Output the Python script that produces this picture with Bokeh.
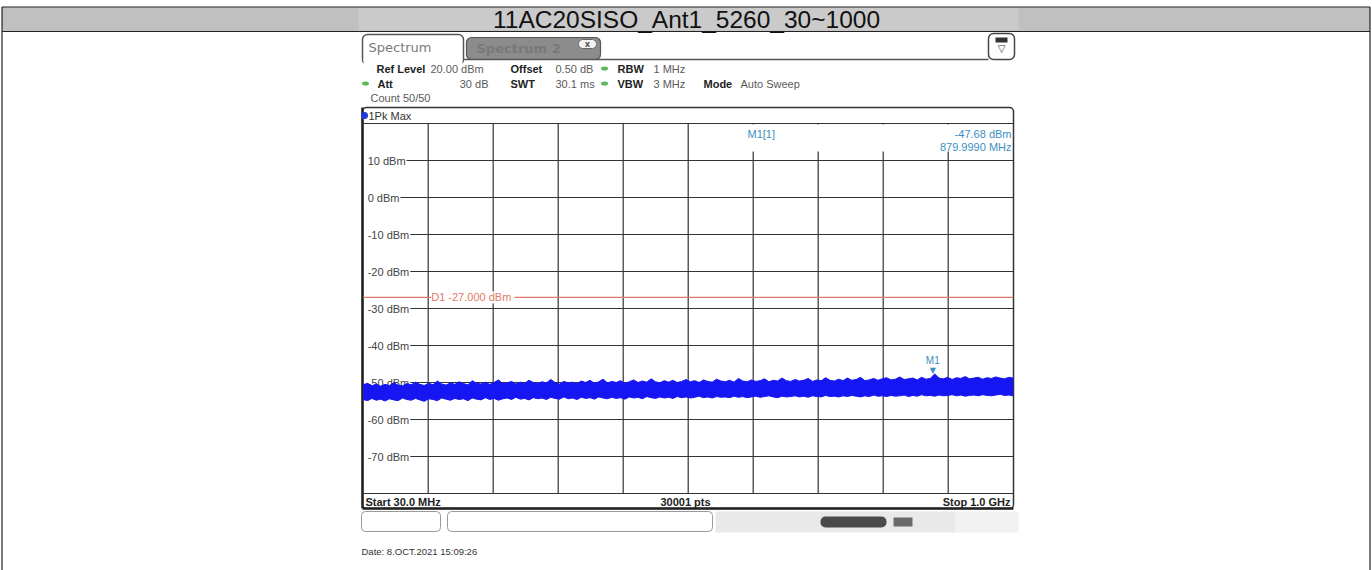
import numpy as np
from bokeh.plotting import figure
from bokeh.models import Range1d
from bokeh.core.properties import value
from bokeh.embed import file_html
from bokeh.resources import INLINE

# ---------------- data ----------------
title_text = "11AC20SISO_Ant1_5260_30~1000"
start_mhz = 30.0
stop_mhz = 1000.0
sweep_points = 30001
ref_top_dbm = 20.0
ref_bottom_dbm = -80.0
freq_grid_mhz = [127, 224, 321, 418, 515, 612, 709, 806, 903]
level_ticks_dbm = [10, 0, -10, -20, -30, -40, -50, -60, -70]
level_tick_labels = ["10 dBm", "0 dBm", "-10 dBm", "-20 dBm", "-30 dBm",
                     "-40 dBm", "-50 dBm", "-60 dBm", "-70 dBm"]
d1_level_dbm = -27.0
marker_freq_mhz = 879.999
marker_level_dbm = -47.68
date_text = "Date: 8.OCT.2021  15:09:26"

# upper (peak) and lower (floor) edges of the noise trace, read left to right
trace_peak_dbm = [
    -50.6, -50.2, -50.9, -50.4, -51.0, -50.5, -50.8, -50.1, -50.7, -50.9,
    -50.3, -50.6, -49.9, -50.5, -50.8, -50.2, -50.6, -49.6, -50.4, -50.7,
    -50.1, -50.5, -49.8, -50.3, -50.6, -49.5, -50.2, -50.4, -49.9, -50.5,
    -50.0, -49.3, -50.3, -50.1, -49.7, -50.4, -49.9, -50.2, -49.4, -50.0,
    -50.3, -49.8, -50.1, -49.2, -50.0, -50.4, -49.7, -50.1, -49.9, -50.3,
    -49.6, -50.0, -49.4, -50.2, -49.8, -49.1, -50.1, -49.7, -50.0, -49.5,
    -50.2, -49.8, -49.3, -50.0, -49.6, -49.9, -49.0, -49.8, -50.1, -49.5,
    -49.9, -49.4, -50.0, -49.7, -49.2, -49.8, -49.5, -50.0, -49.3, -49.7,
    -49.9, -49.1, -49.6, -49.8, -49.4, -49.9, -48.9, -49.6, -49.8, -49.3,
    -49.7, -49.5, -49.0, -49.8, -49.4, -49.6, -48.8, -49.5, -49.7, -49.2,
    -49.6, -49.4, -48.9, -49.7, -49.3, -49.5, -48.7, -49.4, -49.6, -49.1,
    -49.5, -48.8, -49.4, -49.2, -48.6, -49.5, -49.3, -48.9, -49.4, -49.0,
    -48.7, -49.3, -49.1, -48.5, -49.2, -49.0, -48.8, -49.3, -48.6, -49.1,
    -48.9, -47.68, -48.8, -49.0, -48.6, -49.2, -48.7, -48.9, -48.4, -49.0,
    -48.8, -48.6, -49.1, -48.7, -48.9, -48.5, -48.8, -49.0, -48.6, -48.8,
]
trace_floor_dbm = [
    -54.6, -54.9, -54.3, -54.8, -54.5, -55.0, -54.4, -54.7, -54.9, -54.2,
    -54.6, -54.8, -54.3, -54.7, -55.1, -54.4, -54.6, -54.9, -54.2, -54.5,
    -54.8, -54.3, -54.6, -54.4, -54.9, -54.2, -54.5, -54.7, -54.1, -54.6,
    -54.3, -54.8, -54.4, -54.2, -54.6, -54.0, -54.5, -54.3, -54.7, -54.1,
    -54.4, -54.2, -54.6, -54.0, -54.3, -54.5, -53.9, -54.4, -54.2, -54.6,
    -54.0, -54.3, -54.1, -54.5, -53.9, -54.2, -54.4, -54.0, -54.3, -54.1,
    -54.5, -53.9, -54.2, -54.0, -54.4, -53.8, -54.1, -54.3, -53.9, -54.2,
    -54.0, -54.3, -53.8, -54.1, -53.9, -54.2, -54.0, -53.7, -54.1, -53.9,
    -54.2, -53.8, -54.0, -53.9, -54.1, -53.7, -54.0, -53.8, -54.1, -53.9,
    -53.7, -54.0, -53.8, -53.6, -53.9, -54.1, -53.7, -53.9, -53.8, -53.6,
    -53.9, -53.7, -54.0, -53.6, -53.8, -53.9, -53.5, -53.8, -53.7, -53.9,
    -53.6, -53.8, -53.5, -53.7, -53.9, -53.6, -53.8, -53.4, -53.7, -53.6,
    -53.8, -53.5, -53.7, -53.6, -53.4, -53.8, -53.5, -53.7, -53.3, -53.6,
    -53.5, -53.7, -53.4, -53.6, -53.5, -53.3, -53.6, -53.4, -53.7, -53.5,
    -53.4, -53.6, -53.3, -53.5, -53.6, -53.4, -53.2, -53.5, -53.4, -53.6,
]

# ---------------- layout (page pixels) ----------------
W, H = 1372, 570
GX0, GX1 = 362.7, 1012.7      # screen x of start / stop frequency
GY0, GY1 = 123.0, 493.0       # screen y of ref top / bottom level
LABEL_INSET = 3.5             # px between frame and level label box
UI = "Liberation Sans"

mhz_per_px = (stop_mhz - start_mhz) / (GX1 - GX0)
db_per_px = (ref_top_dbm - ref_bottom_dbm) / (GY1 - GY0)

def f_at(px):
    return start_mhz + (px - GX0) * mhz_per_px

def l_at(py):
    return ref_top_dbm - (py - GY0) * db_per_px

p = figure(width=W, height=H, output_backend="svg", toolbar_location=None,
           x_range=Range1d(0, W), y_range=Range1d(H, 0),
           x_axis_location=None, y_axis_location=None, min_border=0,
           outline_line_color=None, background_fill_color="white",
           border_fill_color="white")
p.grid.visible = False
p.extra_x_ranges = {"f": Range1d(f_at(0), f_at(W))}
p.extra_y_ranges = {"d": Range1d(l_at(H), l_at(0))}
D = dict(x_range_name="f", y_range_name="d")


def txt(x, y, t, size, color, align="left", bold=False, font=UI, baseline="middle", **kw):
    p.text(x=x if isinstance(x, list) else [x], y=y if isinstance(y, list) else [y],
           text=t if isinstance(t, list) else [t],
           text_font=value(font), text_font_size=f"{size}px", text_color=color,
           text_align=align, text_baseline=baseline,
           text_font_style="bold" if bold else "normal", **kw)


# ---------------- header band ----------------
BL, BR, BT, HB = 1.5, 1369.5, 6.5, 31
p.quad(left=[BL], right=[BR], top=[BT], bottom=[HB], fill_color="#c0c0c0", line_color=None)
p.quad(left=[358], right=[1018], top=[BT + 1], bottom=[HB - 1], fill_color="#cacaca", line_color=None)
p.segment(x0=[BL, BL, BL, BR], y0=[BT, HB, BT, BT], x1=[BR, BR, BL, BR], y1=[BT, HB, H, H],
          line_color="#222222", line_width=1.2)
txt(686, 19, title_text, 24.5, "#111111", align="center")

# ---------------- tabs ----------------
p.quad(left=[362], right=[463], top=[34], bottom=[64], fill_color="white",
       line_color="#555555", line_width=1.5, border_radius=5)
p.quad(left=[363], right=[462], top=[58], bottom=[66], fill_color="white", line_color=None)
p.quad(left=[466], right=[600], top=[37], bottom=[59], fill_color="#8c8c8c",
       line_color="#555555", line_width=1.2, border_radius=5)
p.quad(left=[578], right=[596], top=[39], bottom=[48], fill_color="#f2f2f2",
       line_color="#666666", line_width=1, border_radius=4)
txt(587, 43.5, "x", 9, "#444444", align="center", bold=True)
txt(368, 47, "Spectrum", 13, "#7a7a7a", font="DejaVu Sans")
txt(476, 48, "Spectrum 2", 13, "#787878", bold=True, font="DejaVu Sans")
p.segment(x0=[463], y0=[59], x1=[988], y1=[59], line_color="#555555", line_width=1.5)
p.quad(left=[988], right=[1014], top=[33], bottom=[59], fill_color="white",
       line_color="#444444", line_width=1.5, border_radius=5)
p.quad(left=[995], right=[1007], top=[37], bottom=[42], fill_color="#333333", line_color=None)
txt(1001, 48, "▽", 10, "#333333", align="center", font="DejaVu Sans")

# ---------------- settings text ----------------
LBL, VAL = "#222222", "#5a5a5a"
txt([376, 510, 617, 377, 510, 617, 703], [68, 68, 68, 83, 83, 83, 83],
    ["Ref Level", "Offset", "RBW", "Att", "SWT", "VBW", "Mode"], 11, LBL, bold=True)
txt([430, 555, 653, 555, 653, 740, 370], [68, 68, 68, 83, 83, 83, 97],
    ["20.00 dBm", "0.50 dB", "1 MHz", "30.1 ms", "3 MHz", "Auto Sweep", "Count 50/50"], 11, VAL)
txt(488, 83, "30 dB", 11, VAL, align="right")
p.ellipse(x=[604, 365, 604], y=[68, 83, 83], width=7, height=4, fill_color="#5cb85c", line_color=None)

# ---------------- frame ----------------
p.quad(left=[362], right=[1013], top=[107], bottom=[508], fill_color="white",
       line_color="#333333", line_width=1.5, border_radius=4)
p.segment(x0=[362, 362], y0=[107, 508], x1=[362, 1013], y1=[508, 508], line_color="#222222", line_width=2.5)
p.circle(x=[364], y=[115], radius=3.5, fill_color="#1f3bd6", line_color=None)
txt(368, 115, "1Pk Max", 11, "#333333")

# grid (data coordinates); labelled lines start inside the label boxes
label_x0 = f_at(GX0 + LABEL_INSET)
line_x0 = f_at(GX0 + LABEL_INSET + 3)
p.segment(x0=[start_mhz] * 2, x1=[stop_mhz] * 2, y0=[ref_top_dbm, ref_bottom_dbm],
          y1=[ref_top_dbm, ref_bottom_dbm], line_color="#333333", line_width=1.2, **D)
p.segment(x0=[line_x0] * len(level_ticks_dbm), x1=[stop_mhz] * len(level_ticks_dbm),
          y0=level_ticks_dbm, y1=level_ticks_dbm, line_color="#333333", line_width=1.2, **D)
p.segment(x0=freq_grid_mhz, x1=freq_grid_mhz, y0=[ref_top_dbm] * len(freq_grid_mhz),
          y1=[ref_bottom_dbm] * len(freq_grid_mhz), line_color="#333333", line_width=1.2, **D)

# marker info area
p.quad(left=[690], right=[1011], top=[124], bottom=[151], fill_color="white", line_color=None)
MC = "#3b8fc2"
txt(747, 133, "M1[1]", 11, MC)
txt(1011, 133, f"{marker_level_dbm:.2f} dBm", 11, MC, align="right")
txt(1011, 146, f"{marker_freq_mhz:.4f} MHz", 11, MC, align="right")

# level labels
txt([label_x0] * len(level_ticks_dbm), level_ticks_dbm, level_tick_labels, 11, "#444444",
    background_fill_color="white", padding=1, **D)

# display line D1
p.segment(x0=[start_mhz], x1=[stop_mhz], y0=[d1_level_dbm], y1=[d1_level_dbm],
          line_color="#e07a68", line_width=1.2, **D)
txt(freq_grid_mhz[0], d1_level_dbm, f"D1  {d1_level_dbm:.3f} dBm", 11, "#e07a68",
    x_offset=3, background_fill_color="white", padding=0, **D)

# trace: solid band between floor and peak edges
n = len(trace_peak_dbm)
tf = np.linspace(start_mhz, stop_mhz, n)
p.varea(x=tf, y1=trace_floor_dbm, y2=trace_peak_dbm, fill_color="#1616f2", **D)
p.line(x=tf, y=trace_peak_dbm, line_color="#1616f2", line_width=1, **D)
p.line(x=tf, y=trace_floor_dbm, line_color="#1616f2", line_width=1, **D)

# marker
txt(marker_freq_mhz, marker_level_dbm, "▼", 8, MC, align="center", baseline="bottom",
    font="DejaVu Sans", y_offset=1, **D)
txt(marker_freq_mhz, marker_level_dbm, "M1", 10, MC, align="center", baseline="bottom",
    y_offset=-8, **D)

# bottom row
txt(365, 501, f"Start {start_mhz:.1f} MHz", 11, "#222222", bold=True)
txt(685, 501, f"{sweep_points} pts", 11, "#222222", align="center", bold=True)
txt(1010, 501, f"Stop {stop_mhz / 1000:.1f} GHz", 11, "#222222", align="right", bold=True)

# status bar
p.quad(left=[715, 955], right=[955, 1018], top=[511, 511], bottom=[532, 532],
       fill_color=["#e9e9e9", "#f2f2f2"], line_color=None)
p.quad(left=[361, 447], right=[440, 712], top=[511, 511], bottom=[531, 531], fill_color="white",
       line_color="#9a9a9a", line_width=1, border_radius=4)
p.quad(left=[820], right=[886], top=[516], bottom=[527], fill_color="#4a4a4a", line_color=None,
       border_radius=5)
p.quad(left=[893], right=[912], top=[517], bottom=[526], fill_color="#6a6a6a", line_color=None)

# date
txt(361, 551, date_text, 9.5, "#333333")

open("out.html", "w").write(file_html(p, INLINE))
